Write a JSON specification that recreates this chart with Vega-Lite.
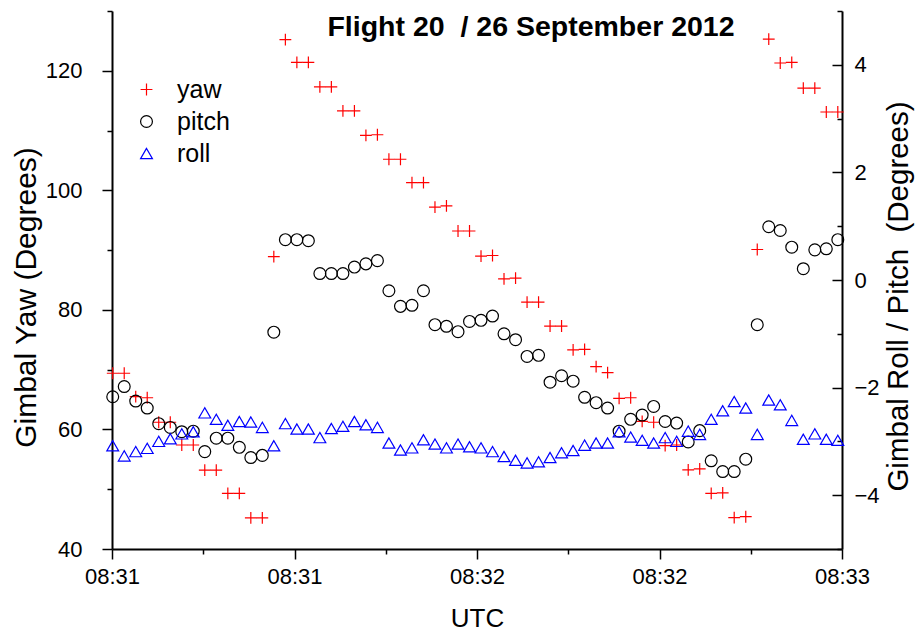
{
  "$schema": "https://vega.github.io/schema/vega-lite/v6.json",
  "width": 730,
  "height": 538,
  "autosize": {"type": "none"},
  "padding": {"left": 112, "top": 11, "right": 74, "bottom": 82},
  "background": "white",
  "config": {
    "view": {"stroke": null},
    "font": "Liberation Sans",
    "axis": {
      "grid": false,
      "domainColor": "black",
      "tickColor": "black",
      "labelColor": "black",
      "titleColor": "black",
      "domainWidth": 2,
      "tickWidth": 1.5,
      "labelFontSize": 22,
      "titleFontSize": 30,
      "titleFontWeight": "normal",
      "labelFont": "Liberation Sans",
      "titleFont": "Liberation Sans",
      "labelOverlap": false,
      "labelFlush": false
    }
  },
  "title": {
    "text": "Flight 20\u00a0 / 26 September 2012",
    "fontSize": 28.5,
    "fontWeight": "bold",
    "font": "Liberation Sans",
    "anchor": "middle",
    "frame": "group",
    "dx": 54,
    "dy": 38,
    "offset": -26,
    "baseline": "alphabetic",
    "color": "black"
  },
  "data": {
    "values": [
      {"t": 0.12, "yaw": 69.4, "pitch": -2.17, "roll": -3.08},
      {"t": 2.01, "yaw": 69.4, "pitch": -1.98, "roll": -3.27},
      {"t": 3.90, "yaw": 65.5, "pitch": -2.25, "roll": -3.19},
      {"t": 5.79, "yaw": 65.3, "pitch": -2.38, "roll": -3.13},
      {"t": 7.68, "yaw": 61.2, "pitch": -2.67, "roll": -3.00},
      {"t": 9.58, "yaw": 61.2, "pitch": -2.74, "roll": -2.95},
      {"t": 11.47, "yaw": 57.4, "pitch": -2.82, "roll": -2.86},
      {"t": 13.36, "yaw": 57.4, "pitch": -2.81, "roll": -2.82},
      {"t": 15.25, "yaw": 53.2, "pitch": -3.19, "roll": -2.47},
      {"t": 17.14, "yaw": 53.2, "pitch": -2.94, "roll": -2.59},
      {"t": 19.04, "yaw": 49.3, "pitch": -2.94, "roll": -2.70},
      {"t": 20.93, "yaw": 49.3, "pitch": -3.11, "roll": -2.63},
      {"t": 22.82, "yaw": 45.2, "pitch": -3.30, "roll": -2.64},
      {"t": 24.71, "yaw": 45.2, "pitch": -3.26, "roll": -2.74},
      {"t": 26.60, "yaw": 88.9, "pitch": -0.97, "roll": -3.08},
      {"t": 28.50, "yaw": 125.2, "pitch": 0.75, "roll": -2.67},
      {"t": 30.39, "yaw": 121.4, "pitch": 0.75, "roll": -2.77},
      {"t": 32.28, "yaw": 121.4, "pitch": 0.73, "roll": -2.77},
      {"t": 34.17, "yaw": 117.3, "pitch": 0.12, "roll": -2.93},
      {"t": 36.06, "yaw": 117.3, "pitch": 0.12, "roll": -2.76},
      {"t": 37.96, "yaw": 113.3, "pitch": 0.12, "roll": -2.72},
      {"t": 39.85, "yaw": 113.3, "pitch": 0.24, "roll": -2.63},
      {"t": 41.74, "yaw": 109.2, "pitch": 0.30, "roll": -2.69},
      {"t": 43.63, "yaw": 109.3, "pitch": 0.36, "roll": -2.74},
      {"t": 45.52, "yaw": 105.2, "pitch": -0.20, "roll": -3.03},
      {"t": 47.42, "yaw": 105.2, "pitch": -0.49, "roll": -3.16},
      {"t": 49.31, "yaw": 101.3, "pitch": -0.47, "roll": -3.12},
      {"t": 51.20, "yaw": 101.3, "pitch": -0.20, "roll": -2.97},
      {"t": 53.09, "yaw": 97.2, "pitch": -0.83, "roll": -3.05},
      {"t": 54.98, "yaw": 97.4, "pitch": -0.86, "roll": -3.12},
      {"t": 56.88, "yaw": 93.2, "pitch": -0.96, "roll": -3.05},
      {"t": 58.77, "yaw": 93.2, "pitch": -0.77, "roll": -3.10},
      {"t": 60.66, "yaw": 89.0, "pitch": -0.75, "roll": -3.12},
      {"t": 62.55, "yaw": 89.1, "pitch": -0.67, "roll": -3.19},
      {"t": 64.44, "yaw": 85.2, "pitch": -1.00, "roll": -3.28},
      {"t": 66.34, "yaw": 85.3, "pitch": -1.11, "roll": -3.35},
      {"t": 68.23, "yaw": 81.3, "pitch": -1.42, "roll": -3.40},
      {"t": 70.12, "yaw": 81.3, "pitch": -1.40, "roll": -3.38},
      {"t": 72.01, "yaw": 77.3, "pitch": -1.90, "roll": -3.30},
      {"t": 73.90, "yaw": 77.3, "pitch": -1.78, "roll": -3.21},
      {"t": 75.80, "yaw": 73.3, "pitch": -1.88, "roll": -3.17},
      {"t": 77.69, "yaw": 73.4, "pitch": -2.18, "roll": -3.07},
      {"t": 79.58, "yaw": 70.5, "pitch": -2.28, "roll": -3.03},
      {"t": 81.47, "yaw": 69.5, "pitch": -2.38, "roll": -3.03},
      {"t": 83.36, "yaw": 65.2, "pitch": -2.81, "roll": -2.82},
      {"t": 85.26, "yaw": 65.3, "pitch": -2.59, "roll": -2.92},
      {"t": 87.15, "yaw": 61.35, "pitch": -2.51, "roll": -2.98},
      {"t": 89.04, "yaw": 61.2, "pitch": -2.35, "roll": -3.03},
      {"t": 90.93, "yaw": 57.3, "pitch": -2.63, "roll": -2.93},
      {"t": 92.82, "yaw": 57.4, "pitch": -2.66, "roll": -3.00},
      {"t": 94.72, "yaw": 53.25, "pitch": -3.01, "roll": -2.81},
      {"t": 96.61, "yaw": 53.4, "pitch": -2.80, "roll": -2.87},
      {"t": 98.50, "yaw": 49.3, "pitch": -3.36, "roll": -2.59},
      {"t": 100.39, "yaw": 49.4, "pitch": -3.56, "roll": -2.43},
      {"t": 102.28, "yaw": 45.25, "pitch": -3.56, "roll": -2.26},
      {"t": 104.18, "yaw": 45.4, "pitch": -3.33, "roll": -2.38},
      {"t": 106.07, "yaw": 90.1, "pitch": -0.83, "roll": -2.87},
      {"t": 107.96, "yaw": 125.3, "pitch": 0.99, "roll": -2.23},
      {"t": 109.85, "yaw": 121.3, "pitch": 0.92, "roll": -2.32},
      {"t": 111.74, "yaw": 121.4, "pitch": 0.61, "roll": -2.61},
      {"t": 113.64, "yaw": 117.1, "pitch": 0.21, "roll": -2.96},
      {"t": 115.53, "yaw": 117.1, "pitch": 0.56, "roll": -2.86},
      {"t": 117.42, "yaw": 113.1, "pitch": 0.58, "roll": -2.96},
      {"t": 119.31, "yaw": 113.1, "pitch": 0.75, "roll": -2.98}
    ]
  },
  "transform": [{"fold": ["yaw", "pitch", "roll"], "as": ["series", "value"]}],
  "encoding": {
    "x": {
      "field": "t",
      "type": "quantitative",
      "scale": {"domain": [0, 120], "nice": false, "zero": false},
      "axis": {
        "values": [0, 15, 30, 45, 60, 75, 90, 105, 120],
        "labelExpr": "datum.value % 30 == 0 ? ['08:31','08:31','08:32','08:32','08:33'][datum.value / 30] : ''",
        "tickSize": {"condition": {"test": "datum.value % 30 != 0", "value": 5}, "value": 10},
        "title": "UTC",
        "titleFontSize": 26,
        "labelPadding": 7,
        "titlePadding": 18
      }
    },
    "color": {
      "field": "series",
      "type": "nominal",
      "scale": {"domain": ["yaw", "pitch", "roll"], "range": ["#ff0000", "#000000", "#0000ff"]},
      "legend": {
        "title": null,
        "orient": "none",
        "legendX": 22,
        "legendY": 66,
        "labelFontSize": 25,
        "labelFont": "Liberation Sans",
        "labelColor": "black",
        "symbolSize": 140,
        "symbolStrokeWidth": 1.2,
        "labelOffset": 18,
        "rowPadding": 6,
        "padding": 0
      }
    },
    "shape": {
      "field": "series",
      "type": "nominal",
      "scale": {"domain": ["yaw", "pitch", "roll"], "range": ["M-1,0H1M0,-1V1", "circle", "triangle-up"]},
      "legend": {
        "title": null,
        "orient": "none",
        "legendX": 22,
        "legendY": 66,
        "labelFontSize": 25,
        "labelFont": "Liberation Sans",
        "labelColor": "black",
        "symbolSize": 140,
        "symbolStrokeWidth": 1.2,
        "labelOffset": 18,
        "rowPadding": 6,
        "padding": 0
      }
    }
  },
  "layer": [
    {
      "transform": [{"filter": "datum.series == 'yaw'"}],
      "mark": {"type": "point", "filled": false, "size": 140, "strokeWidth": 1.2, "opacity": 1},
      "encoding": {
        "y": {
          "field": "value",
          "type": "quantitative",
          "scale": {"domain": [40, 130], "nice": false, "zero": false},
          "axis": {
            "orient": "left",
            "values": [40, 50, 60, 70, 80, 90, 100, 110, 120, 130],
            "labelExpr": "datum.value % 20 == 0 && datum.value < 130 ? datum.label : ''",
            "tickSize": {"condition": {"test": "datum.value % 20 != 0", "value": 5}, "value": 10},
            "title": "Gimbal Yaw (Degrees)",
            "labelPadding": 20,
            "titlePadding": 4,
            "titleY": 286
          }
        }
      }
    },
    {
      "transform": [{"filter": "datum.series != 'yaw'"}],
      "mark": {"type": "point", "filled": false, "size": 140, "strokeWidth": 1.2, "opacity": 1},
      "encoding": {
        "y": {
          "field": "value",
          "type": "quantitative",
          "scale": {"domain": [-5, 5], "nice": false, "zero": false},
          "axis": {
            "orient": "right",
            "values": [-5, -4, -3, -2, -1, 0, 1, 2, 3, 4, 5],
            "labelExpr": "datum.value % 2 == 0 ? datum.label : ''",
            "tickSize": {"condition": {"test": "datum.value % 2 != 0", "value": -5}, "value": -10},
            "title": "Gimbal Roll / Pitch\u00a0 (Degrees)",
            "titleFontSize": 29.5,
            "titleAngle": 270,
            "labelPadding": 22,
            "titlePadding": 34,
            "titleY": 285
          }
        }
      }
    }
  ],
  "resolve": {"scale": {"y": "independent"}}
}
